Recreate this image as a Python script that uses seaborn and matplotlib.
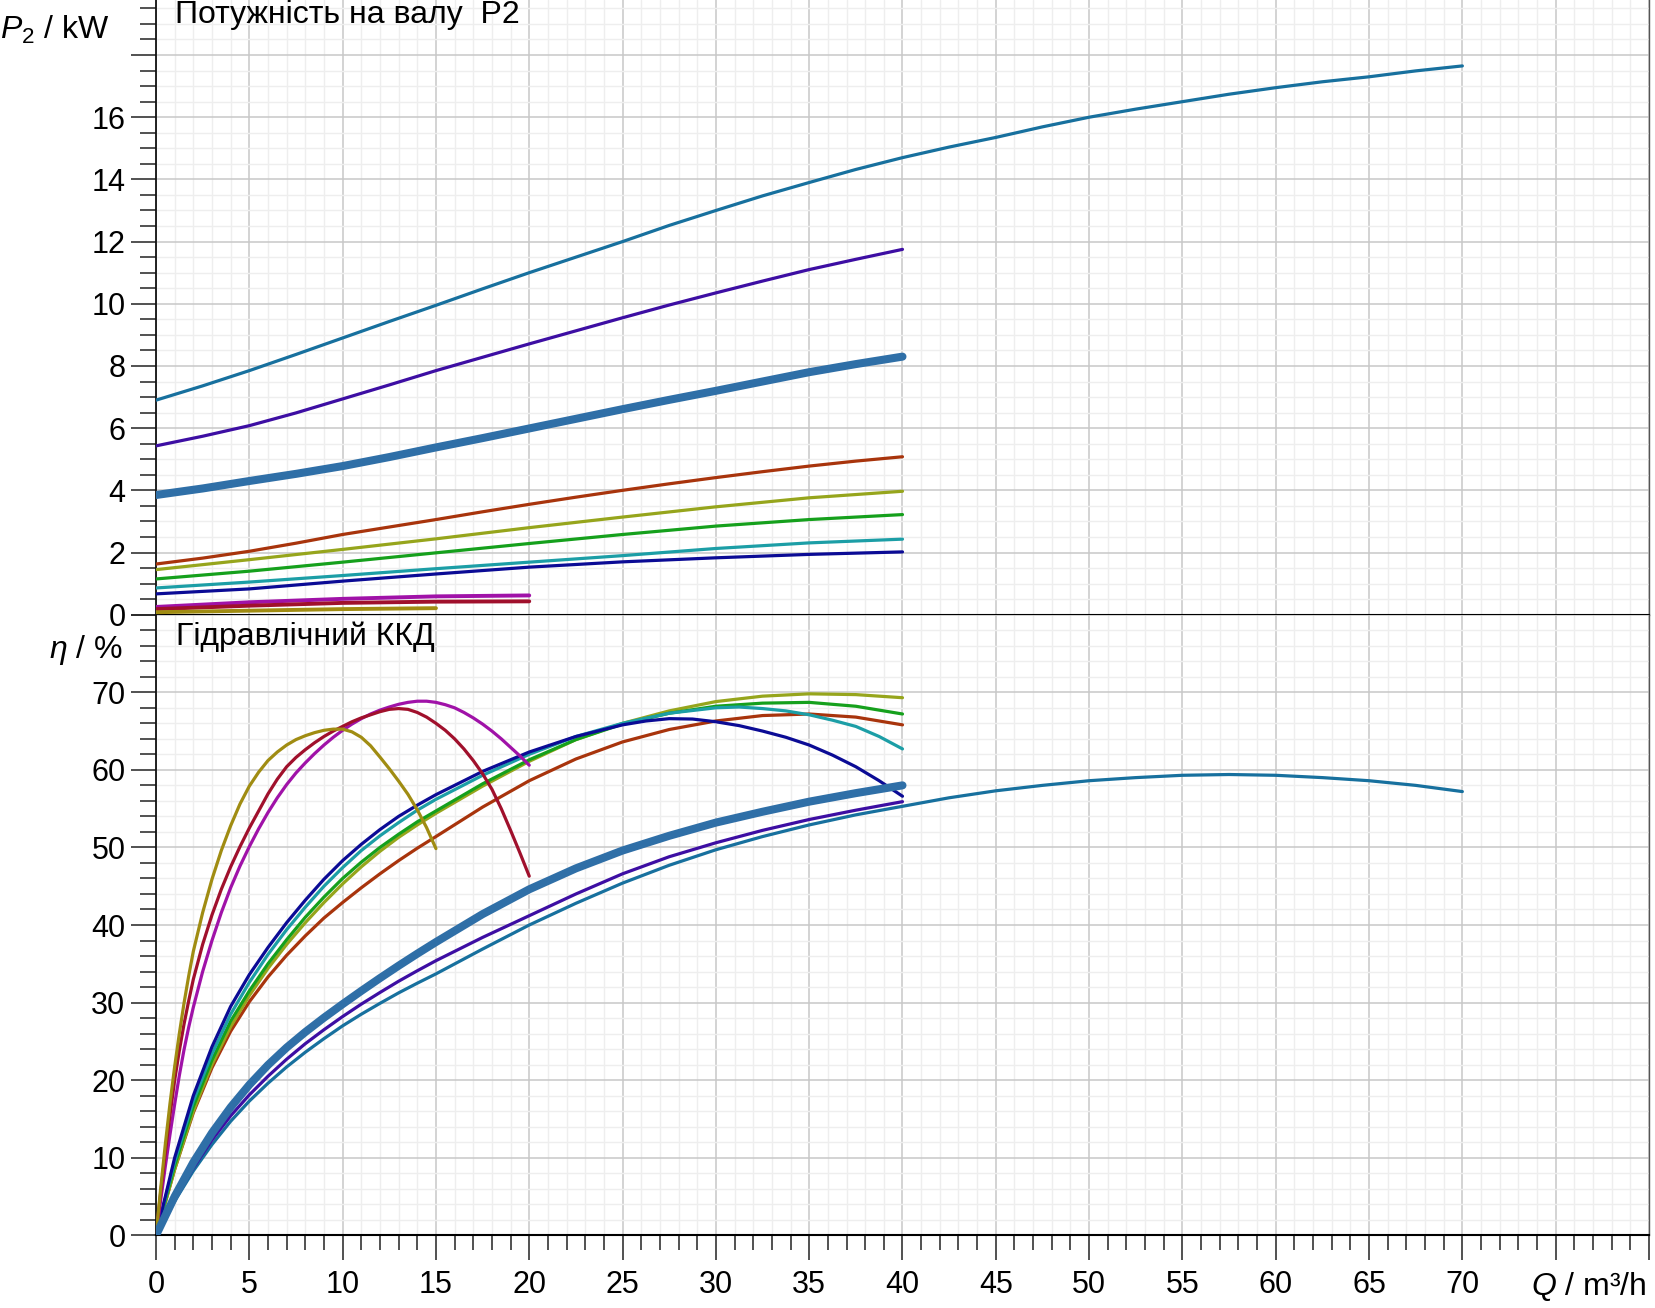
import matplotlib
matplotlib.use('Agg')
import matplotlib.pyplot as plt
import seaborn as sns
from matplotlib.ticker import MultipleLocator, FixedLocator, FixedFormatter

# ---- shaft power P2 (kW)
q25_40 = [0, 2.5, 5, 7.5, 10, 12.5, 15, 17.5, 20, 22.5, 25, 27.5, 30, 32.5, 35, 37.5, 40]
q25_70 = [0, 2.5, 5, 7.5, 10, 12.5, 15, 17.5, 20, 22.5, 25, 27.5, 30, 32.5, 35, 37.5, 40,
          42.5, 45, 47.5, 50, 52.5, 55, 57.5, 60, 62.5, 65, 67.5, 70]
q5_40 = [0, 5, 10, 15, 20, 25, 30, 35, 40]
q5_20 = [0, 5, 10, 15, 20]
q5_15 = [0, 5, 10, 15]

p2_tealblue = [6.9, 7.36, 7.85, 8.37, 8.9, 9.43, 9.95, 10.48, 11.0, 11.5, 12.0, 12.52, 13.0, 13.47,
               13.9, 14.32, 14.7, 15.04, 15.35, 15.69, 16.0, 16.26, 16.5, 16.74, 16.95, 17.14,
               17.3, 17.49, 17.65]
p2_indigo = [5.43, 5.74, 6.08, 6.49, 6.94, 7.39, 7.85, 8.28, 8.71, 9.13, 9.55, 9.96, 10.35,
             10.73, 11.1, 11.43, 11.75]
p2_thick = [3.85, 4.06, 4.3, 4.53, 4.78, 5.07, 5.38, 5.68, 5.99, 6.3, 6.61, 6.91, 7.2, 7.5,
            7.8, 8.06, 8.3]
p2_orange = [1.63, 1.82, 2.04, 2.3, 2.58, 2.82, 3.06, 3.31, 3.55, 3.78, 4.0, 4.21, 4.41, 4.6,
             4.78, 4.94, 5.08]
p2_olive = [1.45, 1.77, 2.1, 2.44, 2.8, 3.14, 3.47, 3.76, 3.97]
p2_green = [1.15, 1.4, 1.69, 1.99, 2.29, 2.58, 2.85, 3.06, 3.22]
p2_teal = [0.86, 1.05, 1.26, 1.48, 1.69, 1.9, 2.13, 2.31, 2.43]
p2_navy = [0.67, 0.83, 1.08, 1.31, 1.53, 1.7, 1.83, 1.94, 2.02]
p2_magenta = [0.25, 0.4, 0.51, 0.59, 0.62]
p2_darkred = [0.18, 0.29, 0.38, 0.42, 0.43]
p2_gold = [0.08, 0.13, 0.18, 0.21]

# ---- hydraulic efficiency (%)
q_half15 = [0, 0.25, 0.5, 0.75, 1, 1.25, 1.5, 1.75, 2, 2.5, 3, 3.5, 4, 4.5, 5, 5.5, 6, 6.5, 7,
            7.5, 8, 8.5, 9, 9.5, 10, 10.5, 11, 11.5, 12, 12.5, 13, 13.5, 14, 14.5, 15]
eta_gold = [0, 6, 11.75, 17, 21.75, 26, 29.9, 33.4, 36.6, 41.6, 45.9, 49.6, 52.8, 55.6, 57.9,
            59.7, 61.2, 62.3, 63.2, 63.9, 64.4, 64.8, 65.1, 65.25, 65.25, 64.9, 64.2, 63.1,
            61.65, 60.15, 58.55, 56.85, 54.85, 52.55, 49.85]

q_half20 = q_half15 + [15.5, 16, 16.5, 17, 17.5, 18, 18.5, 19, 19.5, 20]
eta_darkred = [0, 5.5, 10.7, 15.5, 20, 23.8, 27.2, 30.2, 33, 37.5, 41.3, 44.6, 47.5, 50.1, 52.5,
               54.7, 56.9, 58.8, 60.4, 61.6, 62.6, 63.5, 64.3, 65.0, 65.6, 66.2, 66.7, 67.1,
               67.5, 67.8, 67.9, 67.8, 67.4, 66.8, 66.0, 65.1, 64.0, 62.7, 61.2, 59.5, 57.5,
               55.0, 52.2, 49.3, 46.3]
eta_magenta = [0, 4.5, 8.9, 13, 16.9, 20.6, 23.9, 26.8, 29.4, 34, 38, 41.6, 44.8, 47.6, 50.1,
               52.4, 54.5, 56.4, 58.1, 59.6, 60.9, 62.1, 63.2, 64.2, 65.1, 65.9, 66.6, 67.2,
               67.7, 68.1, 68.45, 68.7, 68.85, 68.85, 68.7, 68.4, 68.0, 67.4, 66.7, 65.9,
               65.0, 64.0, 62.9, 61.8, 60.6]

q_mid = [0, 1, 2, 3, 4, 5, 6, 7, 8, 9, 10, 11, 12, 13, 14, 15,
         17.5, 20, 22.5, 25, 27.5, 30, 32.5, 35, 37.5, 40]
eta_green = [0, 9, 16.6, 22.6, 27.6, 31.5, 35.0, 38.1, 41.0, 43.6, 46.0, 48.1, 50.0, 51.7, 53.3,
             54.7, 58.2, 61.3, 63.9, 65.9, 67.3, 68.2, 68.6, 68.7, 68.2, 67.2]
eta_olive = [0, 8.5, 16.0, 22.0, 26.9, 30.9, 34.4, 37.5, 40.3, 42.9, 45.3, 47.5, 49.5, 51.3,
             52.9, 54.4, 57.9, 61.1, 63.9, 66.0, 67.6, 68.8, 69.5, 69.8, 69.7, 69.3]
eta_orange = [0, 8.5, 15.8, 21.6, 26.3, 30.1, 33.3, 36.1, 38.6, 40.9, 42.9, 44.8, 46.6, 48.3,
              49.9, 51.4, 55.2, 58.6, 61.4, 63.6, 65.2, 66.3, 67.0, 67.2, 66.8, 65.8]
eta_thick = [0, 5, 9.4, 13.2, 16.5, 19.4, 21.95, 24.2, 26.2, 28.05, 29.8, 31.5, 33.15, 34.75,
             36.3, 37.8, 41.4, 44.6, 47.3, 49.6, 51.5, 53.2, 54.6, 55.9, 57.0, 58.0]
eta_indigo = [0, 4.6, 8.7, 12.3, 15.4, 18.1, 20.5, 22.7, 24.7, 26.5, 28.2, 29.8, 31.3, 32.75,
              34.1, 35.4, 38.4, 41.2, 44.0, 46.6, 48.8, 50.6, 52.2, 53.6, 54.8, 55.9]

q_navy = [0, 1, 2, 3, 4, 5, 6, 7, 8, 9, 10, 11, 12, 13, 14, 15, 17.5, 20, 22.5, 25,
          26.25, 27.5, 28.75, 30, 31.25, 32.5, 33.75, 35, 36.25, 37.5, 38.75, 40]
eta_navy = [0, 10, 18, 24.3, 29.5, 33.6, 37.1, 40.3, 43.2, 45.9, 48.3, 50.4, 52.3, 54.0, 55.45,
            56.8, 59.8, 62.3, 64.3, 65.8, 66.3, 66.6, 66.55, 66.2, 65.7, 65.0, 64.2, 63.2,
            61.9, 60.4, 58.6, 56.6]

q_teal = [0, 1, 2, 3, 4, 5, 6, 7, 8, 9, 10, 11, 12, 13, 14, 15, 17.5, 20, 22.5, 25, 27.5,
          30, 31.25, 32.5, 33.75, 35, 36.25, 37.5, 38.75, 40]
eta_teal = [0, 9.5, 17.3, 23.4, 28.5, 32.6, 36.2, 39.4, 42.3, 45.0, 47.4, 49.6, 51.5, 53.2,
            54.8, 56.2, 59.3, 62.0, 64.3, 66.0, 67.3, 68.0, 68.1, 67.9, 67.6, 67.1, 66.4,
            65.6, 64.3, 62.7]

q_big = q_mid + [42.5, 45, 47.5, 50, 52.5, 55, 57.5, 60, 62.5, 65, 67.5, 70]
eta_tealblue = [0, 4.4, 8.3, 11.7, 14.7, 17.3, 19.6, 21.7, 23.6, 25.35, 27.0, 28.5, 29.9, 31.25,
                32.5, 33.7, 36.9, 40.0, 42.8, 45.4, 47.7, 49.7, 51.4, 52.9, 54.2, 55.3,
                56.4, 57.3, 58.0, 58.6, 59.0, 59.3, 59.4, 59.3, 59.0, 58.6, 58.0, 57.2]

# ---- ticks
x_major = [0, 5, 10, 15, 20, 25, 30, 35, 40, 45, 50, 55, 60, 65, 70, 75, 80]
x_labels = ['0', '5', '10', '15', '20', '25', '30', '35', '40', '45', '50', '55', '60', '65', '70', '', '']
p_major = [0, 2, 4, 6, 8, 10, 12, 14, 16, 18]
p_labels = ['0', '2', '4', '6', '8', '10', '12', '14', '16', '']
eta_major = [0, 10, 20, 30, 40, 50, 60, 70, 80]
eta_labels = ['0', '10', '20', '30', '40', '50', '60', '70', '']

c_tealblue = '#17709e'
c_indigo = '#3d0ea3'
c_thick = '#2f6fa7'
c_orange = '#a8340c'
c_olive = '#96a51c'
c_green = '#15a01c'
c_teal = '#1c9ea6'
c_navy = '#0b0b95'
c_magenta = '#a012a8'
c_darkred = '#a0102c'
c_gold = '#a08c12'

sns.set_theme(style="white")
plt.rcParams['font.family'] = ['Liberation Sans', 'DejaVu Sans']
plt.rcParams['mathtext.fontset'] = 'custom'
plt.rcParams['mathtext.it'] = 'Liberation Sans:italic'
plt.rcParams['mathtext.rm'] = 'Liberation Sans'
plt.rcParams['text.color'] = 'black'
plt.rcParams['xtick.color'] = '#222222'
plt.rcParams['ytick.color'] = '#222222'
plt.rcParams['xtick.labelcolor'] = 'black'
plt.rcParams['ytick.labelcolor'] = 'black'

fig = plt.figure(figsize=(16.55, 13.08), dpi=100)
ax_p = fig.add_axes([0.09426, 0.53004, 0.9021, 0.46996])
ax_e = fig.add_axes([0.09426, 0.05558, 0.9021, 0.47446])

lw = 2.3
thick = 5.8
p_curves = [
    (q25_70, p2_tealblue, c_tealblue, lw),
    (q25_40, p2_indigo, c_indigo, lw),
    (q25_40, p2_orange, c_orange, lw),
    (q5_40, p2_olive, c_olive, lw),
    (q5_40, p2_green, c_green, lw),
    (q5_40, p2_teal, c_teal, lw),
    (q5_40, p2_navy, c_navy, lw),
    (q5_20, p2_magenta, c_magenta, 2.8),
    (q5_20, p2_darkred, c_darkred, 2.8),
    (q5_15, p2_gold, c_gold, 2.8),
    (q25_40, p2_thick, c_thick, thick),
]
e_curves = [
    (q_big, eta_tealblue, c_tealblue, lw),
    (q_mid, eta_indigo, c_indigo, lw),
    (q_mid, eta_orange, c_orange, lw),
    (q_mid, eta_olive, c_olive, lw),
    (q_mid, eta_green, c_green, lw),
    (q_teal, eta_teal, c_teal, lw),
    (q_navy, eta_navy, c_navy, lw),
    (q_half20, eta_magenta, c_magenta, lw),
    (q_half20, eta_darkred, c_darkred, lw),
    (q_half15, eta_gold, c_gold, lw),
    (q_mid, eta_thick, c_thick, thick),
]

for ax, curves in [(ax_p, p_curves), (ax_e, e_curves)]:
    for q, v, c, w in curves:
        sns.lineplot(x=q, y=v, ax=ax, color=c, linewidth=w, estimator=None,
                     sort=False, solid_capstyle='round', solid_joinstyle='round', zorder=3)

for ax in (ax_p, ax_e):
    ax.set_xlim(0, 80)
    ax.xaxis.set_major_locator(FixedLocator(x_major))
    ax.xaxis.set_minor_locator(MultipleLocator(1))
    ax.set_axisbelow(True)
    ax.grid(which='major', color='#c8c8c8', linewidth=1.1)
    ax.grid(which='minor', color='#eeeeee', linewidth=1.0)
    ax.spines['top'].set_visible(False)
    ax.spines['right'].set_color('#555555')
    ax.spines['right'].set_linewidth(1.0)
    ax.spines['left'].set_color('#111111')
    ax.spines['left'].set_linewidth(1.3)
    ax.spines['bottom'].set_color('black')
    ax.spines['bottom'].set_linewidth(1.5)
    ax.set_xlabel('')
    ax.set_ylabel('')
    ax.tick_params(axis='y', which='major', direction='out', length=18, width=1.1,
                   labelsize=22, pad=4, left=True)
    ax.tick_params(axis='y', which='minor', direction='out', length=11.5, width=1.1,
                   left=True)

ax_p.set_ylim(0, 19.77)
ax_p.yaxis.set_major_locator(FixedLocator(p_major))
ax_p.yaxis.set_major_formatter(FixedFormatter(p_labels))
ax_p.yaxis.set_minor_locator(MultipleLocator(0.5))
ax_p.tick_params(axis='x', which='both', bottom=False, labelbottom=False)

ax_e.set_ylim(0, 80)
ax_e.yaxis.set_major_locator(FixedLocator(eta_major))
ax_e.yaxis.set_major_formatter(FixedFormatter(eta_labels))
ax_e.yaxis.set_minor_locator(MultipleLocator(2))
ax_e.xaxis.set_major_formatter(FixedFormatter(x_labels))
ax_e.tick_params(axis='x', which='major', direction='out', length=18, width=1.1,
                 labelsize=22, pad=7, bottom=True)
ax_e.tick_params(axis='x', which='minor', direction='out', length=11, width=1.1,
                 bottom=True)

ax_p.text(1.0, 19.02, 'Потужність на валу  P2', fontsize=23, ha='left', va='baseline')
ax_e.text(1.07, 76.1, 'Гідравлічний ККД', fontsize=23, ha='left', va='baseline')

fig.text(0.0659, 0.9702, r'$P_{2}$ / kW', fontsize=23, ha='right', va='baseline')
fig.text(0.0741, 0.4969, r'$\eta$ / %', fontsize=23, ha='right', va='baseline')
fig.text(0.995, 0.0099, r'$Q$ / m³/h', fontsize=23, ha='right', va='baseline')

fig.savefig('out.png', dpi=100)
